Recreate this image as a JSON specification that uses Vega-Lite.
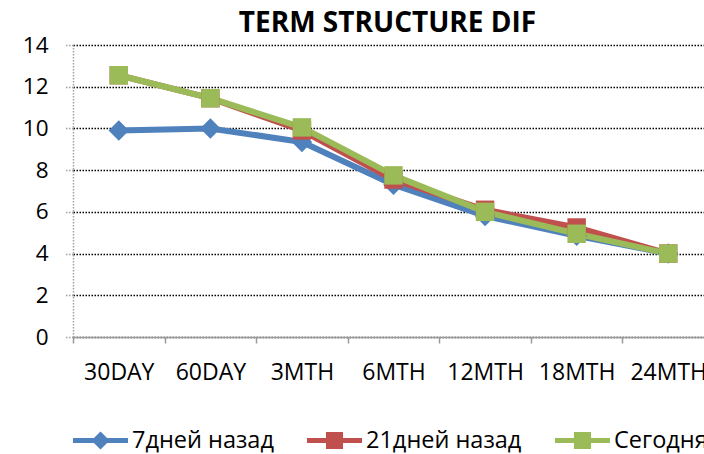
{
  "$schema": "https://vega.github.io/schema/vega-lite/v6.json",
  "width": 631,
  "height": 292,
  "autosize": "none",
  "padding": {"left": 73, "top": 45, "right": 0, "bottom": 117},
  "background": "white",
  "title": {
    "text": "TERM STRUCTURE DIF",
    "font": "Open Sans",
    "fontSize": 28,
    "fontWeight": "bold",
    "color": "#000000",
    "anchor": "middle",
    "dx": -1,
    "dy": 4,
    "offset": 0
  },
  "config": {
    "view": {"stroke": null},
    "font": "Open Sans"
  },
  "data": {
    "values": [
      {"term": "30DAY", "series": "7дней назад", "value": 9.9},
      {"term": "60DAY", "series": "7дней назад", "value": 10.0},
      {"term": "3MTH", "series": "7дней назад", "value": 9.35},
      {"term": "6MTH", "series": "7дней назад", "value": 7.3},
      {"term": "12MTH", "series": "7дней назад", "value": 5.8},
      {"term": "18MTH", "series": "7дней назад", "value": 4.85},
      {"term": "24MTH", "series": "7дней назад", "value": 4.0},
      {"term": "30DAY", "series": "21дней назад", "value": 12.55},
      {"term": "60DAY", "series": "21дней назад", "value": 11.45},
      {"term": "3MTH", "series": "21дней назад", "value": 9.9},
      {"term": "6MTH", "series": "21дней назад", "value": 7.55},
      {"term": "12MTH", "series": "21дней назад", "value": 6.1},
      {"term": "18MTH", "series": "21дней назад", "value": 5.25},
      {"term": "24MTH", "series": "21дней назад", "value": 4.0},
      {"term": "30DAY", "series": "Сегодня", "value": 12.55},
      {"term": "60DAY", "series": "Сегодня", "value": 11.45},
      {"term": "3MTH", "series": "Сегодня", "value": 10.05},
      {"term": "6MTH", "series": "Сегодня", "value": 7.75},
      {"term": "12MTH", "series": "Сегодня", "value": 6.0},
      {"term": "18MTH", "series": "Сегодня", "value": 4.95},
      {"term": "24MTH", "series": "Сегодня", "value": 4.0}
    ]
  },
  "encoding": {
    "x": {
      "field": "term",
      "type": "nominal",
      "sort": ["30DAY", "60DAY", "3MTH", "6MTH", "12MTH", "18MTH", "24MTH"],
      "scale": {"type": "band", "range": [0, 641], "paddingInner": 0, "paddingOuter": 0},
      "axis": {
        "title": null,
        "labelAngle": 0,
        "labelFont": "Open Sans",
        "labelFontSize": 23,
        "labelColor": "#000000",
        "labelPadding": 18,
        "labelOverlap": false,
        "tickBand": "extent",
        "tickSize": 6,
        "tickColor": "#9a9a9a",
        "tickWidth": 1.5,
        "domainColor": "#9a9a9a",
        "domainWidth": 1.5,
        "grid": false
      }
    },
    "y": {
      "field": "value",
      "type": "quantitative",
      "scale": {"domain": [0, 14], "nice": false, "zero": true},
      "axis": {
        "title": null,
        "values": [0, 2, 4, 6, 8, 10, 12, 14],
        "labelFont": "Open Sans",
        "labelFontSize": 22.5,
        "labelColor": "#000000",
        "labelPadding": 17,
        "tickSize": 8,
        "tickColor": "#a0a0a0",
        "tickDash": [1.5, 1.5],
        "tickWidth": 1.5,
        "domainColor": "#a0a0a0",
        "domainDash": [1.5, 1.5],
        "domainWidth": 1.5,
        "grid": true,
        "gridColor": "#000000",
        "gridDash": [1.5, 1.5],
        "gridWidth": 1.5,
        "gridOpacity": 1
      }
    },
    "color": {
      "field": "series",
      "type": "nominal",
      "sort": ["7дней назад", "21дней назад", "Сегодня"],
      "scale": {
        "domain": ["7дней назад", "21дней назад", "Сегодня"],
        "range": ["#4f81bd", "#c0504d", "#9bbb59"]
      },
      "legend": {
        "title": null,
        "orient": "bottom",
        "direction": "horizontal",
        "offset": 29,
        "labelFont": "Open Sans",
        "labelFontSize": 23.5,
        "labelColor": "#000000",
        "labelOffset": 4,
        "columnPadding": 33,
        "symbolSize": 3025,
        "symbolStrokeWidth": 0,
        "encode": {
          "symbols": {
            "update": {
              "shape": {"signal": "datum.index === 0 ? 'M-1,-0.09H1V0.09H-1Z M0,-0.33L0.33,0L0,0.33L-0.33,0Z' : 'M-1,-0.09H1V0.09H-1Z M-0.31,-0.31H0.31V0.31H-0.31Z'"},
              "fill": {"scale": "color", "field": "value"},
              "fillOpacity": {"value": 1},
              "strokeWidth": {"value": 0},
              "size": {"value": 3025}
            }
          }
        }
      }
    },
    "order": {"field": "series"}
  },
  "layer": [
    {
      "mark": {"type": "line", "strokeWidth": 6, "strokeJoin": "round"},
      "encoding": {
        "detail": {"field": "series"}
      }
    },
    {
      "mark": {"type": "point", "filled": true, "opacity": 1, "shape": "diamond", "size": 420},
      "transform": [{"filter": "datum.series === '7дней назад'"}]
    },
    {
      "mark": {"type": "point", "filled": true, "opacity": 1, "shape": "square", "size": 340},
      "transform": [{"filter": "datum.series !== '7дней назад'"}]
    }
  ]
}
